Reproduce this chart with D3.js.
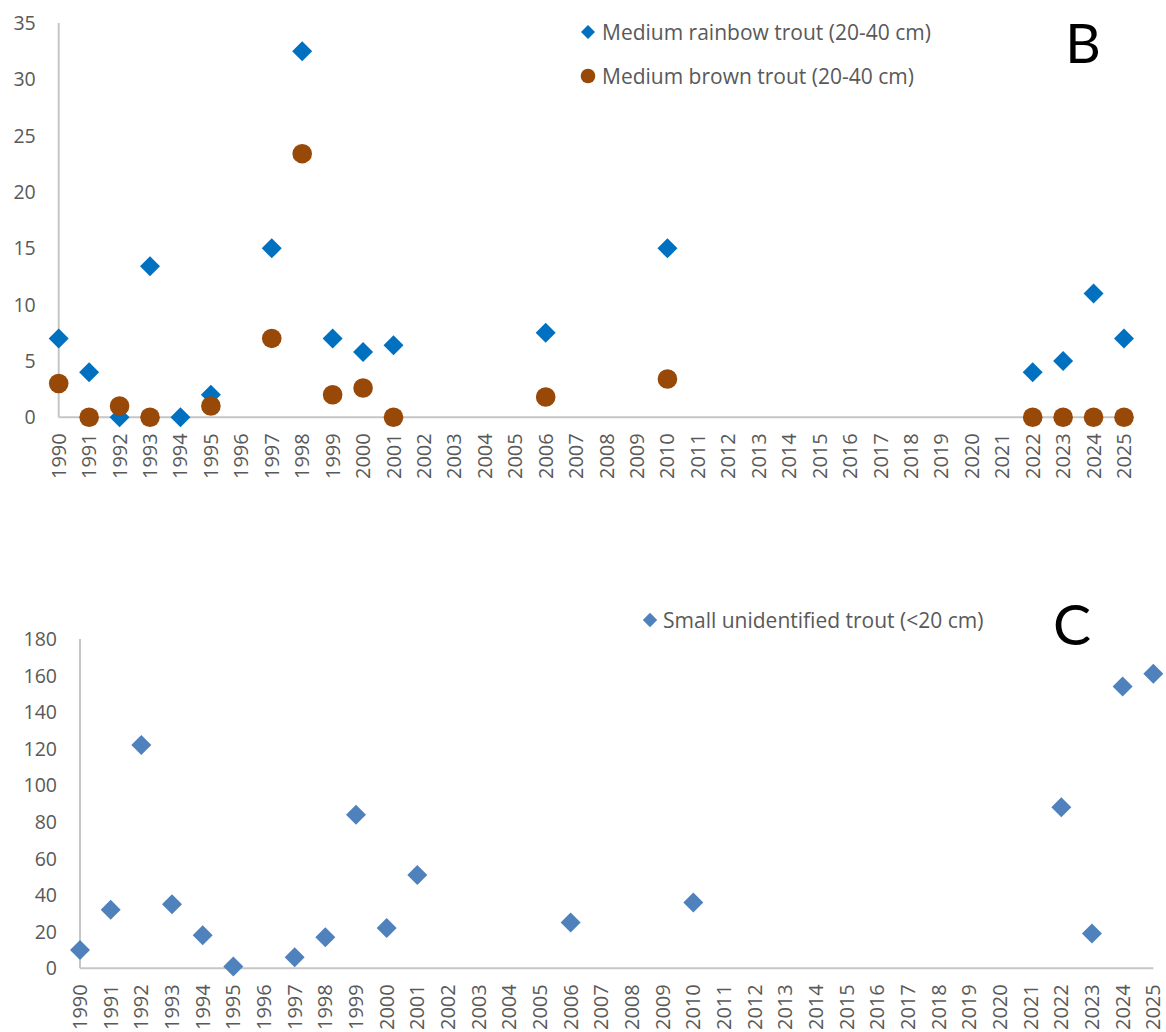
<!DOCTYPE html>
<html>
<head>
<meta charset="utf-8">
<script src="https://cdn.jsdelivr.net/npm/d3@7"></script>
<style>
  html, body { margin: 0; padding: 0; background: #fff; }
  svg { display: block; }
  text { font-family: "Open Sans", Lato, sans-serif; }
  .big { font-family: Lato, sans-serif; }
</style>
</head>
<body>
<svg id="chart" width="1166" height="1032"></svg>
<script>
// ---------- DATA ----------
const years = ["1990","1991","1992","1993","1994","1995","1996","1997","1998","1999",
  "2000","2001","2002","2003","2004","2005","2006","2007","2008","2009","2010","2011",
  "2012","2013","2014","2015","2016","2017","2018","2019","2020","2021","2022","2023",
  "2024","2025"];

const rainbowYears  = ["1990","1991","1992","1993","1994","1995","1997","1998","1999","2000","2001","2006","2010","2022","2023","2024","2025"];
const rainbowValues = [7, 4, 0, 13.4, 0, 2, 15, 32.5, 7, 5.8, 6.4, 7.5, 15, 4, 5, 11, 7];

const brownYears  = ["1990","1991","1992","1993","1995","1997","1998","1999","2000","2001","2006","2010","2022","2023","2024","2025"];
const brownValues = [3, 0, 1, 0, 1, 7, 23.4, 2, 2.6, 0, 1.8, 3.4, 0, 0, 0, 0];

const smallYears  = ["1990","1991","1992","1993","1994","1995","1997","1998","1999","2000","2001","2006","2010","2022","2023","2024","2025"];
const smallValues = [10, 32, 122, 35, 18, 1, 6, 17, 84, 22, 51, 25, 36, 88, 19, 154, 161];

const topTicks = [0, 5, 10, 15, 20, 25, 30, 35];
const bottomTicks = [0, 20, 40, 60, 80, 100, 120, 140, 160, 180];

const labelRainbow = "Medium rainbow trout (20-40 cm)";
const labelBrown = "Medium brown trout (20-40 cm)";
const labelSmall = "Small unidentified trout (<20 cm)";

// ---------- STYLE ----------
const colRainbow = "#0070C0";
const colBrown = "#984807";
const colSmall = "#4F81BD";
const textCol = "#595959";
const axisCol = "#C6C6C6";
const fs = 19.5;
const fsX = 20;
const fsLeg = 21;

const svg = d3.select("#chart");

function zip(ys, vs) { return ys.map((y, i) => ({ year: y, value: vs[i] })); }

function panel(cfg) {
  const g = svg.append("g");
  const x = d3.scalePoint().domain(years).range([cfg.x0, cfg.x1]).padding(0);
  const y = d3.scaleLinear().domain([0, cfg.ymax]).range([cfg.y0, cfg.y1]);

  g.append("line").attr("x1", cfg.x0).attr("x2", cfg.x0).attr("y1", y(0)).attr("y2", y(cfg.ymax))
    .attr("stroke", axisCol).attr("stroke-width", 2);
  g.append("line").attr("x1", cfg.x0).attr("x2", cfg.x1).attr("y1", y(0)).attr("y2", y(0))
    .attr("stroke", axisCol).attr("stroke-width", 2);

  g.selectAll(".yt").data(cfg.ticks).enter().append("text")
    .attr("x", cfg.x0 - 23).attr("y", d => y(d)).attr("dy", "0.36em")
    .attr("text-anchor", "end").attr("fill", textCol).attr("font-size", fs)
    .text(d => d);

  g.selectAll(".xt").data(years).enter().append("text")
    .attr("transform", d => `translate(${x(d) + 7},${y(0) + 16}) rotate(-90)`)
    .attr("text-anchor", "end").attr("fill", textCol).attr("font-size", fsX)
    .text(d => d);

  return { g, x, y };
}

const diamond = s => `M0,${-s}L${s},0L0,${s}L${-s},0Z`;

// ---------- PANEL B ----------
const B = panel({ x0: 58.7, x1: 1124, y0: 417.3, y1: 23, ymax: 35, ticks: topTicks });

B.g.selectAll(".rb").data(zip(rainbowYears, rainbowValues)).enter().append("path")
  .attr("d", diamond(10))
  .attr("transform", d => `translate(${B.x(d.year)},${B.y(d.value)})`)
  .attr("fill", colRainbow);

B.g.selectAll(".br").data(zip(brownYears, brownValues)).enter().append("circle")
  .attr("cx", d => B.x(d.year)).attr("cy", d => B.y(d.value)).attr("r", 9.8)
  .attr("fill", colBrown);

B.g.append("path").attr("d", diamond(7)).attr("transform", "translate(588,32)").attr("fill", colRainbow);
B.g.append("text").attr("x", 602).attr("y", 32).attr("dy", "0.36em").attr("fill", textCol)
  .attr("font-size", fsLeg).text(labelRainbow);
B.g.append("circle").attr("cx", 588).attr("cy", 76).attr("r", 7.3).attr("fill", colBrown);
B.g.append("text").attr("x", 602).attr("y", 76).attr("dy", "0.36em").attr("fill", textCol)
  .attr("font-size", fsLeg).text(labelBrown);

B.g.append("text").attr("class", "big").attr("x", 1083).attr("y", 63).attr("text-anchor", "middle")
  .attr("fill", "#000").attr("font-size", 55).text("B");

// ---------- PANEL C ----------
const C = panel({ x0: 80, x1: 1153.3, y0: 968.3, y1: 639, ymax: 180, ticks: bottomTicks });

C.g.selectAll(".sm").data(zip(smallYears, smallValues)).enter().append("path")
  .attr("d", diamond(10))
  .attr("transform", d => `translate(${C.x(d.year)},${C.y(d.value)})`)
  .attr("fill", colSmall);

C.g.append("path").attr("d", diamond(7.2)).attr("transform", "translate(650,620)").attr("fill", colSmall);
C.g.append("text").attr("x", 663).attr("y", 620).attr("dy", "0.36em").attr("fill", textCol)
  .attr("font-size", fsLeg).text(labelSmall);

C.g.append("text").attr("class", "big").attr("x", 1072).attr("y", 645).attr("text-anchor", "middle")
  .attr("fill", "#000").attr("font-size", 57).text("C");
</script>
</body>
</html>
